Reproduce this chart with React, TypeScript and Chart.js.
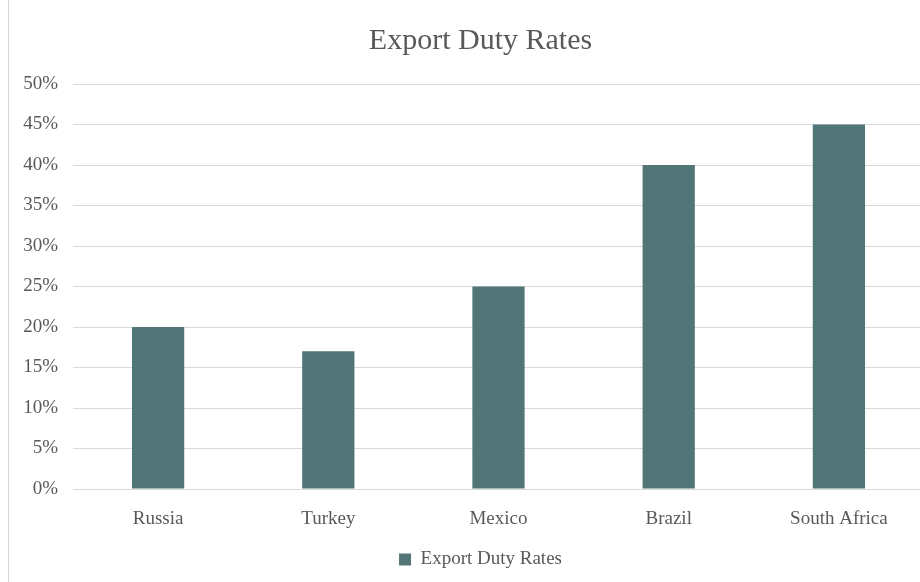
import React, { useEffect, useRef } from "react";
import { Chart, registerables } from "chart.js";

Chart.register(...registerables);

const categories = ["Russia", "Turkey", "Mexico", "Brazil", "South Africa"];
const seriesName = "Export Duty Rates";
const values = [20, 17, 25, 40, 45];
const chartTitle = "Export Duty Rates";

const FONT = "'Liberation Serif', 'Times New Roman', serif";
const TEXT = "#595959";

// shifts the title and legend so they are centred where the original centres them
const centreShift = {
  id: "centreShift",
  afterLayout(chart: any) {
    const d = 14;
    if (chart.titleBlock) {
      chart.titleBlock.left += d;
      chart.titleBlock.right += d;
    }
    if (chart.legend) {
      chart.legend.left += d;
      chart.legend.right += d;
    }
  },
};

export default function App() {
  const ref = useRef<HTMLCanvasElement | null>(null);

  useEffect(() => {
    if (!ref.current) return;
    const chart = new Chart(ref.current, {
      type: "bar",
      data: {
        labels: categories,
        datasets: [
          {
            label: seriesName,
            data: values,
            backgroundColor: "#527678",
            borderWidth: 0,
            categoryPercentage: 1,
            barPercentage: 0.307,
          },
        ],
      },
      plugins: [centreShift],
      options: {
        animation: false,
        responsive: false,
        maintainAspectRatio: false,
        layout: { padding: { left: 0, right: 27, top: 0, bottom: 3 } },
        plugins: {
          title: {
            display: true,
            text: chartTitle,
            color: TEXT,
            font: { family: FONT, size: 30, weight: "normal" },
            padding: { top: 23, bottom: 25 },
          },
          legend: {
            display: true,
            position: "bottom",
            labels: {
              color: TEXT,
              font: { family: FONT, size: 19 },
              boxWidth: 12,
              boxHeight: 12,
              padding: 10,
            },
          },
          tooltip: { enabled: false },
        },
        scales: {
          x: {
            grid: { display: false, drawTicks: false },
            border: { display: false },
            ticks: {
              color: TEXT,
              font: { family: FONT, size: 19 },
              padding: 19,
              maxRotation: 0,
              autoSkip: false,
            },
            afterFit: (scale: any) => {
              scale.height = 51;
            },
          },
          y: {
            min: 0,
            max: 50,
            grid: { color: "#d9d9d9", lineWidth: 1, drawTicks: false },
            border: { display: false },
            ticks: {
              stepSize: 5,
              color: TEXT,
              font: { family: FONT, size: 19 },
              padding: 15,
              callback: (v: any) => v + "%",
            },
            afterFit: (scale: any) => {
              scale.width = 64;
            },
          },
        },
      },
    });
    return () => chart.destroy();
  }, []);

  return (
    <div
      style={{
        position: "fixed",
        left: 0,
        top: 0,
        width: 920,
        height: 582,
        overflow: "hidden",
        background: "#ffffff",
      }}
    >
      <div
        style={{
          position: "absolute",
          left: 8,
          top: 0,
          width: 1,
          height: 582,
          background: "#d4d4d4",
        }}
      />
      <canvas
        ref={ref}
        width={942}
        height={582}
        style={{ position: "absolute", left: 9, top: 0, width: 942, height: 582 }}
      />
    </div>
  );
}
